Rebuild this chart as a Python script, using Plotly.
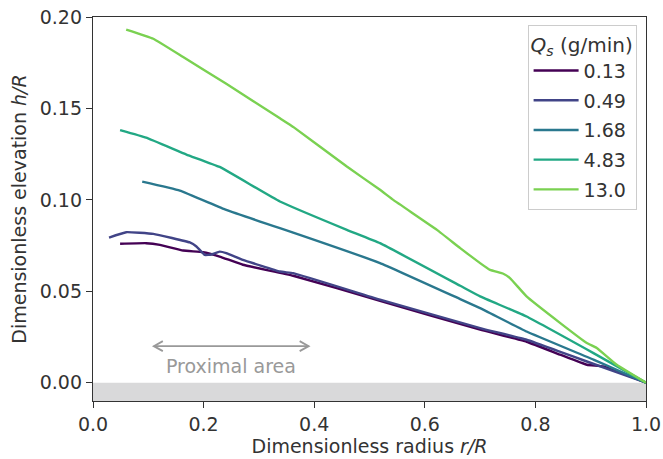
import plotly.graph_objects as go

# ---- data ----
labels = ["0.13", "0.49", "1.68", "4.83", "13.0"]
colors = ["#440154", "#414487", "#2a788e", "#22a884", "#7ad151"]

r_013 = [0.049, 0.096, 0.121, 0.163, 0.199, 0.229, 0.271, 0.362, 0.519, 0.700, 0.784, 0.845, 0.893, 0.923, 1.0]
h_013 = [0.0760, 0.0763, 0.0754, 0.0723, 0.0714, 0.0690, 0.0645, 0.0585, 0.0448, 0.0290, 0.0224, 0.0153, 0.0098, 0.0089, 0.0]

r_049 = [0.029, 0.060, 0.109, 0.175, 0.187, 0.202, 0.214, 0.229, 0.241, 0.271, 0.338, 0.362, 0.519, 0.700, 0.784, 0.845, 0.893, 1.0]
h_049 = [0.0794, 0.0823, 0.0814, 0.0767, 0.0745, 0.0699, 0.0701, 0.0717, 0.0709, 0.0672, 0.0608, 0.0599, 0.0454, 0.0299, 0.0235, 0.0169, 0.0116, 0.0]

r_168 = [0.089, 0.157, 0.241, 0.338, 0.362, 0.519, 0.664, 0.700, 0.784, 0.905, 1.0]
h_168 = [0.1100, 0.1051, 0.0945, 0.0845, 0.0821, 0.0654, 0.0457, 0.0408, 0.0280, 0.0126, 0.0]

r_483 = [0.049, 0.096, 0.169, 0.229, 0.338, 0.459, 0.519, 0.664, 0.700, 0.784, 0.905, 1.0]
h_483 = [0.1381, 0.1340, 0.1248, 0.1180, 0.0991, 0.0836, 0.0763, 0.0530, 0.0472, 0.0362, 0.0162, 0.0]

r_130 = [0.060, 0.109, 0.163, 0.241, 0.338, 0.362, 0.459, 0.519, 0.543, 0.622, 0.664, 0.700, 0.718, 0.742, 0.754, 0.784, 0.845, 0.893, 0.911, 0.947, 1.0]
h_130 = [0.1931, 0.1881, 0.1781, 0.1635, 0.1446, 0.1399, 0.1182, 0.1055, 0.1000, 0.0836, 0.0736, 0.0654, 0.0617, 0.0596, 0.0572, 0.0472, 0.0326, 0.0217, 0.0190, 0.0098, 0.0]

series_r = [r_013, r_049, r_168, r_483, r_130]
series_h = [h_013, h_049, h_168, h_483, h_130]

x_ticks = [0.0, 0.2, 0.4, 0.6, 0.8, 1.0]
x_ticklabels = ["0.0", "0.2", "0.4", "0.6", "0.8", "1.0"]
y_ticks = [0.00, 0.05, 0.10, 0.15, 0.20]
y_ticklabels = ["0.00", "0.05", "0.10", "0.15", "0.20"]

# annotation for proximal area
prox_start, prox_end, prox_y = 0.11, 0.39, 0.020
prox_text_x, prox_text_y = 0.25, 0.009

FONT = "DejaVu Sans"
TXT = "#333333"
GRAY = "#999999"
FS = 19

fig = go.Figure()
for i, (r, h, lab, col) in enumerate(zip(series_r, series_h, labels, colors)):
    fig.add_trace(go.Scatter(x=r, y=h, mode="lines", name=lab, legendgroup=f"g{i}",
                             line=dict(color=col, width=2.4, shape="spline", smoothing=0.3)))

# gray band below zero
fig.add_shape(type="rect", xref="x", yref="y", x0=0, x1=1, y0=-0.01, y1=0,
              fillcolor="#d9d9da", line=dict(width=0), layer="below")

# double-headed arrow: shaft + open chevron heads
fig.add_shape(type="line", xref="x", yref="y", x0=prox_start, x1=prox_end,
              y0=prox_y, y1=prox_y, line=dict(color=GRAY, width=1.8))
fig.add_shape(type="path", xref="x", yref="y", xsizemode="pixel", ysizemode="pixel",
              xanchor=prox_start, yanchor=prox_y, path="M 9,5 L 0,0 L 9,-5",
              line=dict(color=GRAY, width=1.8))
fig.add_shape(type="path", xref="x", yref="y", xsizemode="pixel", ysizemode="pixel",
              xanchor=prox_end, yanchor=prox_y, path="M -9,5 L 0,0 L -9,-5",
              line=dict(color=GRAY, width=1.8))
fig.add_annotation(x=prox_text_x, y=prox_text_y, xref="x", yref="y",
                   text="Proximal area", showarrow=False,
                   font=dict(family=FONT, size=FS, color=GRAY))

fig.update_layout(
    width=663, height=459,
    margin=dict(l=93, r=17, t=17, b=58, autoexpand=False),
    paper_bgcolor="white", plot_bgcolor="white",
    font=dict(family=FONT, size=FS, color=TXT),
    legend=dict(
        title=dict(text="<i>Q<sub>s</sub></i> (g/min)", font=dict(family=FONT, size=20, color=TXT)),
        x=0.983, y=0.98, xanchor="right", yanchor="top",
        bgcolor="white", bordercolor="#cccccc", borderwidth=1,
        font=dict(family=FONT, size=FS, color=TXT),
        tracegroupgap=2, itemwidth=45,
    ),
    xaxis=dict(
        range=[0, 1], tickvals=x_ticks, ticktext=x_ticklabels,
        showgrid=False, zeroline=False, automargin=False,
        showline=True, mirror=True, linecolor="#333333", linewidth=1.3,
        ticks="outside", ticklen=6, tickwidth=1.3, tickcolor="#333333",
        tickfont=dict(family=FONT, size=FS, color=TXT),
        title=dict(text="Dimensionless radius <i>r/R</i>", standoff=4,
                   font=dict(family=FONT, size=FS, color=TXT)),
    ),
    yaxis=dict(
        range=[-0.01, 0.20], tickvals=y_ticks, ticktext=y_ticklabels,
        showgrid=False, zeroline=False, automargin=False,
        showline=True, mirror=True, linecolor="#333333", linewidth=1.3,
        ticks="outside", ticklen=6, tickwidth=1.3, tickcolor="#333333",
        tickfont=dict(family=FONT, size=FS, color=TXT),
        title=dict(text="Dimensionless elevation <i>h/R</i>", standoff=8,
                   font=dict(family=FONT, size=FS, color=TXT)),
    ),
)

fig.write_html("out.html")
